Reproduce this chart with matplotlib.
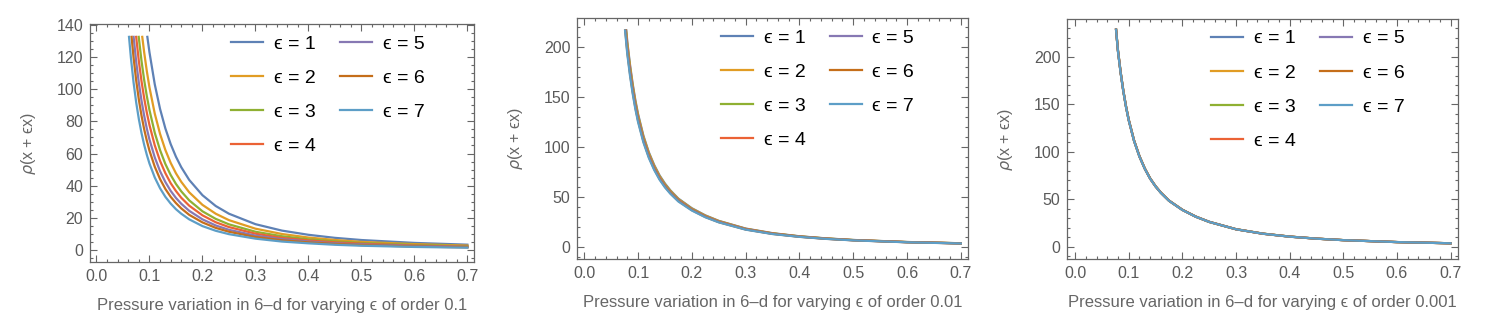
import matplotlib.pyplot as plt
from matplotlib.ticker import MultipleLocator

plt.rcParams['font.family'] = ['Liberation Sans', 'DejaVu Sans']

eps_labels = ["ϵ = 1", "ϵ = 2", "ϵ = 3", "ϵ = 4", "ϵ = 5", "ϵ = 6", "ϵ = 7"]
colors = ["#5E81B5", "#E19C24", "#8FB032", "#EB6235", "#8778B3", "#C56E1A", "#5D9EC7"]
orders = ["0.1", "0.01", "0.001"]

# ---- order 0.1 : curves ----
x_tail1 = [0.10, 0.11, 0.12, 0.13, 0.14, 0.15, 0.16, 0.175, 0.2, 0.225,
           0.25, 0.3, 0.35, 0.4, 0.45, 0.5, 0.6, 0.7]
x1_e1 = [0.096] + x_tail1
y1_e1 = [132.5, 122.9, 103.0, 87.7, 75.6, 65.9, 58.0, 51.5, 43.6, 34.1, 27.4,
         22.6, 16.1, 12.1, 9.5, 7.6, 6.25, 4.46, 3.36]
x1_e2 = [0.0864, 0.09, 0.095] + x_tail1
y1_e2 = [132.5, 122.9, 111.2, 101.1, 84.8, 72.2, 62.2, 54.2, 47.7, 42.4, 35.9,
         28.1, 22.6, 18.6, 13.3, 10.0, 7.8, 6.3, 5.1, 3.7, 2.8]
x1_e3 = [0.0797, 0.085, 0.09, 0.095] + x_tail1
y1_e3 = [132.5, 117.5, 105.7, 95.7, 87.0, 72.9, 62.1, 53.5, 46.7, 41.1, 36.5,
         30.9, 24.1, 19.4, 16.0, 11.4, 8.6, 6.7, 5.4, 4.4, 3.2, 2.4]
x1_e4 = [0.0749, 0.08, 0.085, 0.09, 0.095] + x_tail1
y1_e4 = [132.5, 117.3, 104.9, 94.4, 85.4, 77.7, 65.1, 55.4, 47.8, 41.6, 36.7,
         32.5, 27.6, 21.6, 17.3, 14.3, 10.2, 7.6, 6.0, 4.8, 3.95, 2.8, 2.1]
x1_e5 = [0.0701, 0.075, 0.08, 0.085, 0.09, 0.095] + x_tail1
y1_e5 = [132.5, 116.9, 103.8, 92.8, 83.5, 75.5, 68.7, 57.6, 49.0, 42.3, 36.8,
         32.4, 28.8, 24.4, 19.1, 15.3, 12.6, 9.0, 6.8, 5.3, 4.2, 3.5, 2.5, 1.9]
x1_e6 = [0.0662, 0.07, 0.075, 0.08, 0.085, 0.09, 0.095] + x_tail1
y1_e6 = [132.5, 119.6, 105.2, 93.4, 83.5, 75.1, 68.0, 61.8, 51.8, 44.1, 38.0,
         33.1, 29.2, 25.9, 21.9, 17.2, 13.8, 11.4, 8.1, 6.1, 4.8, 3.8, 3.1, 2.2, 1.7]
x1_e7 = [0.0614, 0.065, 0.07, 0.075, 0.08, 0.085, 0.09, 0.095] + x_tail1
y1_e7 = [132.5, 119.4, 104.1, 91.6, 81.3, 72.7, 65.4, 59.2, 53.8, 45.1, 38.4,
         33.1, 28.9, 25.4, 22.6, 19.1, 14.9, 12.0, 9.9, 7.1, 5.3, 4.2, 3.3, 2.7,
         1.95, 1.5]

# ---- order 0.01 and 0.001 : shared x grid, start point at the clipped top ----
x_grid23 = [0.08, 0.085, 0.09, 0.095, 0.10, 0.11, 0.12, 0.13, 0.14, 0.15, 0.16,
            0.175, 0.2, 0.225, 0.25, 0.3, 0.35, 0.4, 0.45, 0.5, 0.6, 0.7]

x2_start = [0.0782, 0.0778, 0.0774, 0.0771, 0.0767, 0.0763, 0.0759]
y2_top = 216
y2_e1 = [204.9, 182.2, 162.9, 146.5, 132.7, 110.9, 94.5, 81.7, 71.3, 63.2, 56.4,
         48.1, 38.5, 31.4, 25.9, 18.2, 13.6, 10.5, 8.37, 6.81, 4.77, 3.52]
y2_e2 = [202.9, 180.3, 161.2, 145.0, 131.3, 109.8, 93.6, 80.9, 70.6, 62.5, 55.9,
         47.6, 38.1, 31.1, 25.7, 18.0, 13.4, 10.4, 8.28, 6.74, 4.72, 3.49]
y2_e3 = [200.8, 178.5, 159.6, 143.6, 130.0, 108.6, 92.6, 80.0, 69.8, 61.9, 55.3,
         47.1, 37.7, 30.7, 25.4, 17.8, 13.3, 10.3, 8.20, 6.67, 4.68, 3.45]
y2_e4 = [198.7, 176.6, 157.9, 142.1, 128.6, 107.5, 91.7, 79.2, 69.1, 61.2, 54.7,
         46.7, 37.3, 30.4, 25.2, 17.7, 13.2, 10.2, 8.11, 6.60, 4.63, 3.42]
y2_e5 = [196.7, 174.8, 156.3, 140.6, 127.3, 106.4, 90.7, 78.4, 68.4, 60.6, 54.2,
         46.2, 37.0, 30.1, 24.9, 17.5, 13.0, 10.1, 8.03, 6.54, 4.58, 3.38]
y2_e6 = [194.6, 173.0, 154.6, 139.1, 126.0, 105.3, 89.8, 77.6, 67.7, 60.0, 53.6,
         45.7, 36.6, 29.8, 24.6, 17.3, 12.9, 10.0, 7.94, 6.47, 4.53, 3.35]
y2_e7 = [192.5, 171.1, 153.0, 137.6, 124.6, 104.2, 88.8, 76.7, 67.0, 59.3, 53.0,
         45.2, 36.2, 29.5, 24.4, 17.1, 12.7, 9.9, 7.86, 6.40, 4.48, 3.31]

x3_start = [0.0765, 0.0765, 0.0765, 0.0764, 0.0764, 0.0764, 0.0764]
y3_top = 228.5
y3_e1 = [206.8, 183.8, 164.3, 147.9, 133.9, 111.9, 95.4, 82.4, 71.9, 63.7, 56.9,
         48.6, 38.9, 31.7, 26.2, 18.4, 13.7, 10.6, 8.44, 6.87, 4.82, 3.56]
y3_e2 = [206.6, 183.6, 164.2, 147.7, 133.7, 111.8, 95.3, 82.3, 71.9, 63.7, 56.9,
         48.5, 38.8, 31.6, 26.1, 18.4, 13.7, 10.6, 8.43, 6.87, 4.81, 3.55]
y3_e3 = [206.4, 183.4, 164.0, 147.6, 133.6, 111.7, 95.2, 82.3, 71.8, 63.6, 56.8,
         48.5, 38.8, 31.6, 26.1, 18.3, 13.7, 10.6, 8.42, 6.86, 4.81, 3.55]
y3_e4 = [206.2, 183.3, 163.8, 147.4, 133.5, 111.6, 95.1, 82.2, 71.7, 63.5, 56.8,
         48.4, 38.7, 31.6, 26.1, 18.3, 13.6, 10.6, 8.42, 6.85, 4.80, 3.55]
y3_e5 = [206.0, 183.1, 163.7, 147.3, 133.3, 111.4, 95.0, 82.1, 71.6, 63.5, 56.7,
         48.4, 38.7, 31.5, 26.1, 18.3, 13.6, 10.5, 8.41, 6.85, 4.80, 3.54]
y3_e6 = [205.8, 182.9, 163.5, 147.1, 133.2, 111.3, 94.9, 82.0, 71.6, 63.4, 56.7,
         48.3, 38.7, 31.5, 26.0, 18.3, 13.6, 10.5, 8.40, 6.84, 4.79, 3.54]
y3_e7 = [205.6, 182.7, 163.4, 147.0, 133.1, 111.2, 94.8, 81.9, 71.5, 63.4, 56.6,
         48.3, 38.6, 31.5, 26.0, 18.3, 13.6, 10.5, 8.39, 6.83, 4.79, 3.54]

x1_list = [x1_e1, x1_e2, x1_e3, x1_e4, x1_e5, x1_e6, x1_e7]
y1_list = [y1_e1, y1_e2, y1_e3, y1_e4, y1_e5, y1_e6, y1_e7]
y2_list = [y2_e1, y2_e2, y2_e3, y2_e4, y2_e5, y2_e6, y2_e7]
y3_list = [y3_e1, y3_e2, y3_e3, y3_e4, y3_e5, y3_e6, y3_e7]

panels = []
panels.append((x1_list, y1_list))
panels.append(([[s] + x_grid23 for s in x2_start], [[y2_top] + y for y in y2_list]))
panels.append(([[s] + x_grid23 for s in x3_start], [[y3_top] + y for y in y3_list]))

fig = plt.figure(figsize=(14.87, 3.29), dpi=100)
rects = [[0.0605, 0.2027, 0.2582, 0.7234],
         [0.3882, 0.2128, 0.2629, 0.7316],
         [0.7178, 0.2128, 0.2629, 0.7295]]
ylims = [(-7.6, 140.3), (-12.2, 228.2), (-13.0, 239.7)]
xlims = [(-0.0123, 0.7123), (-0.013, 0.7137), (-0.0143, 0.7143)]
ymajor = [20, 50, 50]
yminor = [5, 10, 10]
frame_col = "#666666"

for i in range(3):
    ax = fig.add_axes(rects[i])
    xs, ys = panels[i]
    lines = []
    for k in range(7):
        ln, = ax.plot(xs[k], ys[k], color=colors[k], lw=1.6,
                      solid_joinstyle='round', label=eps_labels[k])
        lines.append(ln)
    ax.set_xlim(*xlims[i])
    ax.set_ylim(*ylims[i])
    ax.xaxis.set_major_locator(MultipleLocator(0.1))
    ax.xaxis.set_minor_locator(MultipleLocator(0.02))
    ax.yaxis.set_major_locator(MultipleLocator(ymajor[i]))
    ax.yaxis.set_minor_locator(MultipleLocator(yminor[i]))
    ax.xaxis.set_major_formatter(plt.FuncFormatter(lambda v, p: f"{v:.1f}"))
    ax.tick_params(which='both', direction='in', top=True, right=True,
                   color=frame_col, width=0.8, labelcolor="#5a5a5a", labelsize=11.5)
    ax.tick_params(which='major', length=5, pad=5)
    ax.tick_params(which='minor', length=2.5)
    for sp in ax.spines.values():
        sp.set_color(frame_col)
        sp.set_linewidth(0.9)
    ax.set_xlabel(f"Pressure variation in 6–d for varying ϵ of order {orders[i]}",
                  fontsize=12, color="#666666", labelpad=10)
    ax.set_ylabel("$\\rho$(x + ϵx)", fontsize=11.5, color="#666666")
    ax.yaxis.set_label_coords(-52 / (rects[i][2] * 1487), 0.5)
    ax.legend(lines, eps_labels, ncol=2, loc='upper left',
              bbox_to_anchor=(0.367, 0.955), frameon=False, fontsize=14,
              handlelength=1.65, handletextpad=0.55, labelspacing=0.85,
              columnspacing=1.25, borderpad=0, borderaxespad=0)

fig.savefig("out.png", dpi=100)
